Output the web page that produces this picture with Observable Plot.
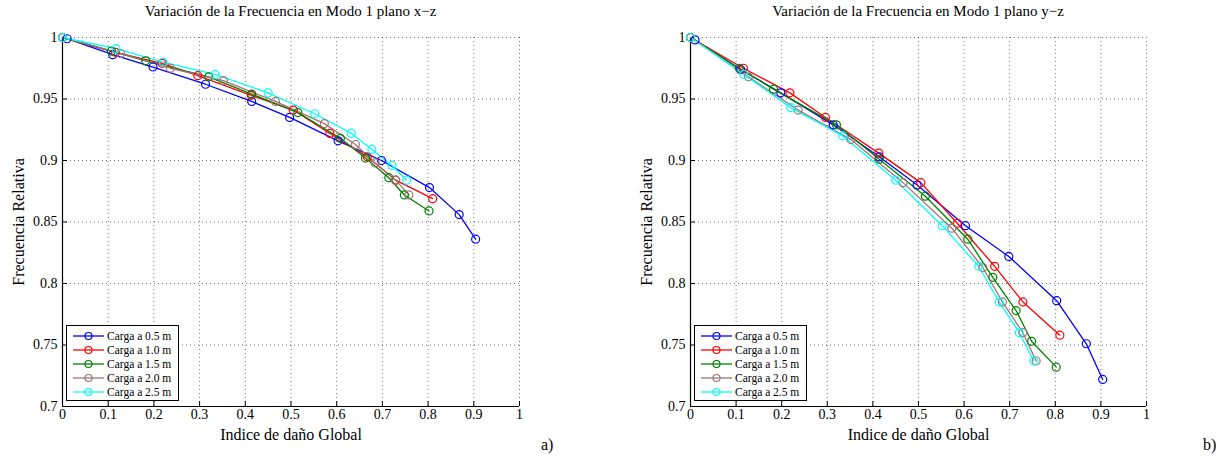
<!DOCTYPE html>
<html><head><meta charset="utf-8">
<script src="https://cdn.jsdelivr.net/npm/d3@7"></script>
<script src="https://cdn.jsdelivr.net/npm/@observablehq/plot@0.6"></script>
<style>
body{margin:0;background:#fff;font-family:"Liberation Serif","Times New Roman",Times,"DejaVu Serif",serif;}
#wrap{position:relative;width:1223px;height:461px;overflow:hidden;background:#fff}
.panel{position:absolute;top:0}
.title{position:absolute;top:3px;font-size:15px;white-space:nowrap;transform:translateX(-50%);color:#000}
.tag{position:absolute;font-size:16px;color:#000}
.legend{position:absolute;border:1.5px solid #000;background:#fff;font-size:11.5px;box-sizing:border-box}
.legend .row{position:absolute;left:0;height:14px;display:flex;align-items:center;white-space:nowrap}
.legend svg{display:block}
svg text{font-family:"Liberation Serif","Times New Roman",Times,"DejaVu Serif",serif;}
</style></head>
<body><div id="wrap"></div>
<script>
// ---- data ----
const seriesNames = ["Carga a 0.5 m", "Carga a 1.0 m", "Carga a 1.5 m", "Carga a 2.0 m", "Carga a 2.5 m"];
const seriesColors = ["#0000ff", "#ff0000", "#008000", "#a07373", "#00ffff"];

const xBlue  = [0.01, 0.11, 0.198, 0.313, 0.414, 0.497, 0.603, 0.698, 0.803, 0.868, 0.904];
const xRed   = [0, 0.116, 0.218, 0.296, 0.413, 0.505, 0.585, 0.667, 0.729, 0.81];
const xGreen = [0, 0.107, 0.182, 0.32, 0.414, 0.515, 0.608, 0.663, 0.714, 0.748, 0.802];
const xBrown = [0, 0.127, 0.236, 0.352, 0.466, 0.573, 0.641, 0.684, 0.729, 0.758];
const xCyan  = [0, 0.117, 0.22, 0.334, 0.45, 0.552, 0.632, 0.677, 0.721, 0.753];

// plano x-z
const xzBlue  = [0.999, 0.986, 0.976, 0.962, 0.948, 0.935, 0.916, 0.900, 0.878, 0.856, 0.836];
const xzRed   = [1, 0.988, 0.979, 0.969, 0.953, 0.941, 0.922, 0.903, 0.884, 0.869];
const xzGreen = [1, 0.989, 0.981, 0.968, 0.954, 0.939, 0.918, 0.902, 0.886, 0.872, 0.859];
const xzBrown = [1, 0.987, 0.975, 0.965, 0.948, 0.930, 0.913, 0.898, 0.884, 0.872];
const xzCyan  = [1, 0.991, 0.980, 0.970, 0.955, 0.938, 0.922, 0.909, 0.896, 0.884];

// plano y-z
const yzBlue  = [0.998, 0.974, 0.955, 0.929, 0.903, 0.880, 0.847, 0.822, 0.786, 0.751, 0.722];
const yzRed   = [1, 0.975, 0.955, 0.935, 0.906, 0.882, 0.849, 0.814, 0.785, 0.758];
const yzGreen = [1, 0.975, 0.958, 0.929, 0.901, 0.871, 0.836, 0.805, 0.778, 0.753, 0.732];
const yzBrown = [1, 0.968, 0.941, 0.917, 0.882, 0.845, 0.813, 0.785, 0.760, 0.737];
const yzCyan  = [1, 0.970, 0.943, 0.920, 0.884, 0.847, 0.814, 0.785, 0.760, 0.737];

const xTicks = [0, 0.1, 0.2, 0.3, 0.4, 0.5, 0.6, 0.7, 0.8, 0.9, 1];
const yTicks = [0.7, 0.75, 0.8, 0.85, 0.9, 0.95, 1];

const titles = ["Variación de la Frecuencia en Modo 1 plano x\u2212z", "Variación de la Frecuencia en Modo 1 plano y\u2212z"];
const xLabel = "Indice de daño Global";
const yLabel = "Frecuencia Relativa";
const tags = ["a)", "b)"];

// ---- build ----
const FONT = "'Liberation Serif', 'Times New Roman', Times, 'DejaVu Serif', serif";
const xs = [xBlue, xRed, xGreen, xBrown, xCyan];
const panelsY = [[xzBlue, xzRed, xzGreen, xzBrown, xzCyan], [yzBlue, yzRed, yzGreen, yzBrown, yzCyan]];

const wrap = document.getElementById("wrap");
const panelGeom = [
  {left: 0, width: 612, ml: 62, mr: 93},
  {left: 612, width: 611, ml: 78, mr: 77}
];
const fmtX = d => d === 0 ? "0" : d === 1 ? "1" : d.toFixed(1);
const fmtY = d => d === 1 ? "1" : (+d.toFixed(2)).toString();

panelGeom.forEach((g, p) => {
  const rows = seriesNames.flatMap((s, i) => xs[i].map((x, j) => ({s, x, y: panelsY[p][i][j]})));
  const chart = Plot.plot({
    width: g.width, height: 461,
    marginLeft: g.ml, marginRight: g.mr, marginTop: 37, marginBottom: 55,
    style: {fontFamily: FONT, fontSize: "14px", color: "#000", background: "#fff"},
    x: {domain: [0, 1]},
    y: {domain: [0.7, 1]},
    color: {domain: seriesNames, range: seriesColors},
    marks: [
      Plot.gridX(xTicks, {stroke: "#000", strokeOpacity: 0.55, strokeDasharray: "1,3", strokeWidth: 1}),
      Plot.gridY(yTicks, {stroke: "#000", strokeOpacity: 0.55, strokeDasharray: "1,3", strokeWidth: 1}),
      Plot.axisX(xTicks, {anchor: "bottom", tickSize: -5, tickPadding: 8, tickFormat: fmtX, fontSize: 14,
        label: xLabel, labelAnchor: "center", labelArrow: "none", labelOffset: 33}),
      Plot.axisY(yTicks, {anchor: "left", tickSize: -5, tickPadding: 10, tickFormat: fmtY, fontSize: 14,
        label: yLabel, labelAnchor: "center", labelArrow: "none", labelOffset: 50}),
      Plot.ruleX([0], {stroke: "#000", strokeWidth: 1.2}),
      Plot.ruleY([0.7], {stroke: "#000", strokeWidth: 1.2}),
      Plot.line(rows, {x: "x", y: "y", z: "s", stroke: "s", strokeWidth: 1.3}),
      Plot.dot(rows, {x: "x", y: "y", stroke: "s", r: 4, strokeWidth: 1.2, fill: "none"})
    ]
  });
  const div = document.createElement("div");
  div.className = "panel";
  div.style.left = g.left + "px";
  div.appendChild(chart);
  wrap.appendChild(div);

  chart.querySelectorAll("g[aria-label='x-axis label'] text, g[aria-label='y-axis label'] text").forEach(t => t.setAttribute("font-size", 16));

  const frameL = g.left + g.ml, frameR = g.left + g.width - g.mr;
  const t = document.createElement("div");
  t.className = "title";
  t.style.left = ((frameL + frameR) / 2) + "px";
  t.textContent = titles[p];
  wrap.appendChild(t);

  const tag = document.createElement("div");
  tag.className = "tag";
  tag.style.left = (p === 0 ? 541 : 1203) + "px";
  tag.style.top = "436px";
  tag.textContent = tags[p];
  wrap.appendChild(tag);

  const lg = document.createElement("div");
  lg.className = "legend";
  lg.style.left = (frameL + 4) + "px";
  lg.style.top = "325px";
  lg.style.width = "113px";
  lg.style.height = "76px";
  seriesNames.forEach((s, i) => {
    const r = document.createElement("div");
    r.className = "row";
    r.style.top = (3 + i * 14) + "px";
    r.innerHTML = `<svg width="40" height="14"><line x1="6" y1="7" x2="37" y2="7" stroke="${seriesColors[i]}" stroke-width="1.3"/><circle cx="21.5" cy="7" r="3.5" fill="none" stroke="${seriesColors[i]}" stroke-width="1.2"/></svg><span>${s}</span>`;
    lg.appendChild(r);
  });
  wrap.appendChild(lg);
});
</script></body></html>
